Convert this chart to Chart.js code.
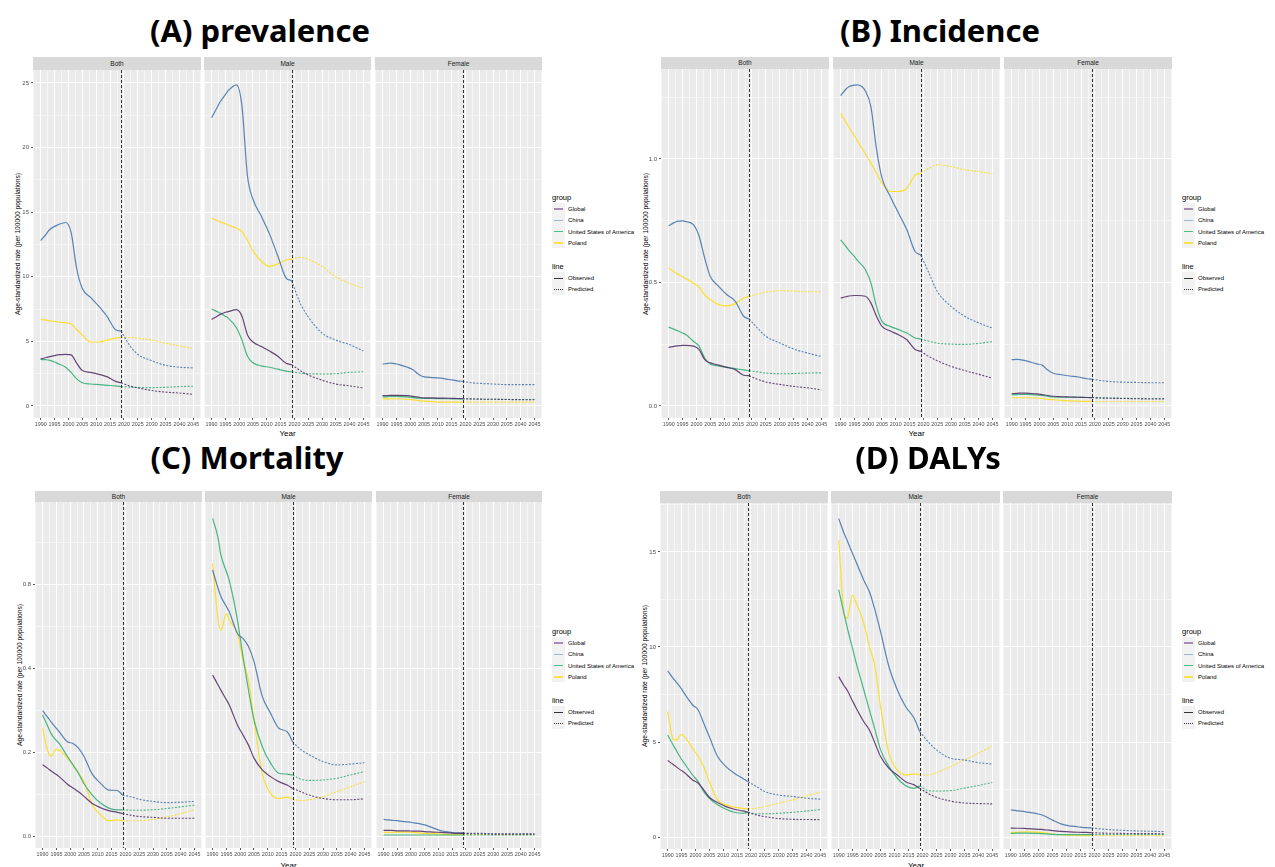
<!DOCTYPE html>
<html>
<head>
<meta charset="utf-8">
<script src="https://cdn.jsdelivr.net/npm/chart.js@4.4.0/dist/chart.umd.min.js"></script>
<style>
  body { margin: 0; background: #fff; width: 1275px; height: 867px; overflow: hidden; position: relative;
         font-family: "Liberation Sans", Arial, sans-serif; }
  canvas { position: absolute; }
  .title { position: absolute; font-family: "Noto Sans", sans-serif; font-weight: 700; font-size: 31px;
           color: #000; transform: translate(-50%, -50%); white-space: nowrap; }
  .strip { position: absolute; background: #d9d9d9; color: #1a1a1a; font-size: 6.5px; text-align: center; }
  .ytitle { position: absolute; font-size: 6.7px; color: #000; white-space: nowrap;
            transform: translate(-50%, -50%) rotate(-90deg); }
  .xtitle { position: absolute; font-size: 8px; color: #000; transform: translate(-50%, -50%); }
  .ltxt { position: absolute; font-size: 6px; color: #000; white-space: nowrap; transform: translateY(-50%); }
  .lhead { position: absolute; font-size: 7.5px; color: #000; transform: translateY(-50%); }
  .lkey { position: absolute; background: #f2f2f2; }
  .lline { position: absolute; }
</style>
</head>
<body>
<script>
// ---- data ----
const groups = ['Global', 'China', 'United States of America', 'Poland'];
const facets = ['Both', 'Male', 'Female'];
const lineTypes = ['Observed', 'Predicted'];
const yearTicks = [1990, 1995, 2000, 2005, 2010, 2015, 2020, 2025, 2030, 2035, 2040, 2045];
const obsYears = [1990, 1992, 1993, 1995, 1996, 1999, 2001, 2003, 2005, 2008, 2011, 2014, 2017, 2019];
const predYears = [2019, 2022, 2025, 2030, 2035, 2040, 2045];
const cutYear = 2019;

// (A) prevalence
const prevTicks = [0, 5, 10, 15, 20, 25];
const prevTickLabels = ['0', '5', '10', '15', '20', '25'];
const prevBothObs = [
  [3.64, 3.75, 3.8, 3.9, 3.95, 4.0, 3.95, 3.3, 2.75, 2.6, 2.45, 2.25, 1.9, 1.8],
  [12.8, 13.3, 13.6, 13.9, 14.0, 14.2, 13.4, 10.6, 9.1, 8.4, 7.7, 6.9, 5.9, 5.8],
  [3.6, 3.58, 3.55, 3.4, 3.3, 3.0, 2.6, 2.1, 1.8, 1.7, 1.65, 1.6, 1.55, 1.5],
  [6.7, 6.65, 6.6, 6.55, 6.5, 6.45, 6.35, 5.9, 5.5, 4.95, 4.95, 5.1, 5.25, 5.3]];
const prevBothPred = [
  [1.8, 1.55, 1.4, 1.2, 1.07, 1.0, 0.9],
  [5.8, 4.7, 4.0, 3.5, 3.15, 3.0, 2.95],
  [1.5, 1.46, 1.43, 1.42, 1.45, 1.5, 1.53],
  [5.3, 5.3, 5.25, 5.1, 4.85, 4.65, 4.45]];
const prevMaleObs = [
  [6.7, 6.95, 7.07, 7.25, 7.3, 7.45, 6.95, 5.5, 4.95, 4.6, 4.25, 3.85, 3.3, 3.2],
  [22.3, 23.1, 23.5, 24.1, 24.4, 24.85, 23.2, 17.8, 16.0, 14.7, 13.3, 11.6, 9.9, 9.7],
  [7.5, 7.3, 7.2, 6.95, 6.8, 6.05, 5.1, 3.85, 3.35, 3.1, 3.0, 2.85, 2.7, 2.65],
  [14.55, 14.35, 14.25, 14.1, 14.0, 13.75, 13.5, 12.8, 12.0, 11.2, 10.8, 11.0, 11.3, 11.35]];
const prevMalePred = [
  [3.2, 2.75, 2.4, 2.0, 1.7, 1.55, 1.4],
  [9.7, 8.0, 6.9, 5.65, 5.1, 4.75, 4.25],
  [2.65, 2.55, 2.5, 2.48, 2.5, 2.6, 2.65],
  [11.35, 11.5, 11.35, 10.8, 10.0, 9.5, 9.1]];
const prevFemaleObs = [
  [0.8, 0.81, 0.82, 0.82, 0.82, 0.8, 0.75, 0.68, 0.62, 0.62, 0.61, 0.6, 0.58, 0.57],
  [3.25, 3.3, 3.32, 3.25, 3.2, 3.0, 2.8, 2.45, 2.25, 2.2, 2.15, 2.05, 1.95, 1.9],
  [0.7, 0.73, 0.75, 0.74, 0.73, 0.7, 0.65, 0.6, 0.58, 0.58, 0.57, 0.56, 0.55, 0.55],
  [0.55, 0.55, 0.56, 0.56, 0.55, 0.52, 0.48, 0.42, 0.38, 0.34, 0.3, 0.3, 0.3, 0.3]];
const prevFemalePred = [
  [0.57, 0.55, 0.53, 0.52, 0.5, 0.49, 0.48],
  [1.9, 1.8, 1.75, 1.7, 1.65, 1.65, 1.65],
  [0.55, 0.54, 0.53, 0.52, 0.51, 0.5, 0.5],
  [0.3, 0.3, 0.3, 0.3, 0.3, 0.3, 0.3]];

// (B) Incidence
const incTicks = [0, 0.5, 1.0];
const incTickLabels = ['0.0', '0.5', '1.0'];
const incBothObs = [
  [0.237, 0.241, 0.243, 0.245, 0.245, 0.242, 0.228, 0.187, 0.174, 0.165, 0.156, 0.147, 0.124, 0.122],
  [0.729, 0.742, 0.747, 0.749, 0.747, 0.733, 0.686, 0.598, 0.524, 0.484, 0.45, 0.423, 0.363, 0.352],
  [0.319, 0.31, 0.305, 0.295, 0.29, 0.261, 0.241, 0.194, 0.17, 0.162, 0.156, 0.151, 0.146, 0.142],
  [0.558, 0.543, 0.535, 0.523, 0.517, 0.497, 0.48, 0.45, 0.43, 0.41, 0.405, 0.414, 0.437, 0.443]];
const incBothPred = [
  [0.122, 0.108, 0.097, 0.087, 0.079, 0.073, 0.065],
  [0.352, 0.315, 0.282, 0.255, 0.23, 0.214, 0.2],
  [0.142, 0.138, 0.133, 0.13, 0.131, 0.133, 0.134],
  [0.443, 0.453, 0.461, 0.466, 0.465, 0.462, 0.462]];
const incMaleObs = [
  [0.437, 0.442, 0.445, 0.447, 0.447, 0.444, 0.416, 0.363, 0.322, 0.303, 0.288, 0.268, 0.228, 0.221],
  [1.256, 1.283, 1.292, 1.299, 1.3, 1.275, 1.21, 1.04, 0.922, 0.848, 0.78, 0.713, 0.625, 0.612],
  [0.672, 0.645, 0.63, 0.605, 0.59, 0.551, 0.497, 0.403, 0.342, 0.322, 0.309, 0.295, 0.275, 0.271],
  [1.185, 1.148, 1.13, 1.093, 1.075, 1.02, 0.982, 0.942, 0.902, 0.868, 0.868, 0.881, 0.935, 0.942]];
const incMalePred = [
  [0.221, 0.2, 0.183, 0.16, 0.143, 0.128, 0.112],
  [0.612, 0.538, 0.464, 0.403, 0.363, 0.336, 0.315],
  [0.271, 0.262, 0.254, 0.25, 0.249, 0.253, 0.26],
  [0.942, 0.962, 0.976, 0.969, 0.956, 0.949, 0.94]];
const incFemaleObs = [
  [0.05, 0.051, 0.052, 0.052, 0.051, 0.049, 0.046, 0.042, 0.039, 0.037, 0.036, 0.035, 0.034, 0.033],
  [0.187, 0.188, 0.187, 0.183, 0.18, 0.17, 0.165, 0.145, 0.132, 0.126, 0.121, 0.117, 0.11, 0.108],
  [0.045, 0.046, 0.047, 0.047, 0.047, 0.045, 0.042, 0.039, 0.036, 0.035, 0.035, 0.035, 0.034, 0.034],
  [0.033, 0.033, 0.033, 0.033, 0.033, 0.032, 0.03, 0.027, 0.025, 0.022, 0.02, 0.019, 0.018, 0.018]];
const incFemalePred = [
  [0.033, 0.032, 0.031, 0.03, 0.029, 0.028, 0.028],
  [0.108, 0.103, 0.099, 0.096, 0.095, 0.094, 0.094],
  [0.034, 0.033, 0.032, 0.031, 0.03, 0.03, 0.03],
  [0.018, 0.018, 0.018, 0.018, 0.018, 0.018, 0.018]];

// (C) Mortality
const mortTicks = [0, 0.2, 0.4, 0.6];
const mortTickLabels = ['0.0', '0.2', '0.4', '0.8'];
const mortBothObs = [
  [0.17, 0.161, 0.156, 0.147, 0.142, 0.124, 0.115, 0.106, 0.095, 0.078, 0.068, 0.061, 0.057, 0.054],
  [0.299, 0.282, 0.273, 0.257, 0.249, 0.225, 0.221, 0.21, 0.19, 0.148, 0.126, 0.11, 0.109, 0.098],
  [0.289, 0.26, 0.245, 0.228, 0.221, 0.19, 0.17, 0.15, 0.125, 0.098, 0.079, 0.067, 0.063, 0.063],
  [0.257, 0.2, 0.191, 0.207, 0.205, 0.186, 0.17, 0.15, 0.13, 0.075, 0.051, 0.037, 0.039, 0.037]];
const mortBothPred = [
  [0.054, 0.05, 0.047, 0.045, 0.043, 0.043, 0.043],
  [0.098, 0.094, 0.088, 0.083, 0.08, 0.081, 0.083],
  [0.063, 0.062, 0.062, 0.063, 0.066, 0.07, 0.074],
  [0.037, 0.037, 0.037, 0.04, 0.046, 0.054, 0.063]];
const mortMaleObs = [
  [0.384, 0.36, 0.348, 0.325, 0.313, 0.265, 0.241, 0.217, 0.186, 0.158, 0.142, 0.13, 0.122, 0.114],
  [0.634, 0.59, 0.571, 0.547, 0.535, 0.483, 0.471, 0.452, 0.416, 0.333, 0.293, 0.257, 0.249, 0.225],
  [0.757, 0.71, 0.67, 0.63, 0.61, 0.515, 0.428, 0.348, 0.277, 0.213, 0.174, 0.15, 0.148, 0.146],
  [0.65, 0.515, 0.49, 0.53, 0.515, 0.483, 0.42, 0.372, 0.277, 0.15, 0.102, 0.09, 0.093, 0.088]];
const mortMalePred = [
  [0.114, 0.106, 0.098, 0.09, 0.087, 0.087, 0.089],
  [0.225, 0.206, 0.194, 0.178, 0.17, 0.172, 0.175],
  [0.146, 0.136, 0.133, 0.134, 0.138, 0.146, 0.154],
  [0.088, 0.085, 0.087, 0.094, 0.106, 0.118, 0.13]];
const mortFemaleObs = [
  [0.014, 0.014, 0.014, 0.013, 0.013, 0.013, 0.012, 0.012, 0.011, 0.01, 0.009, 0.008, 0.007, 0.007],
  [0.04, 0.039, 0.038, 0.037, 0.036, 0.034, 0.032, 0.03, 0.027, 0.02, 0.013, 0.01, 0.008, 0.008],
  [0.003, 0.003, 0.003, 0.003, 0.003, 0.003, 0.003, 0.003, 0.003, 0.003, 0.003, 0.003, 0.003, 0.003],
  [0.009, 0.009, 0.009, 0.01, 0.01, 0.01, 0.009, 0.008, 0.007, 0.006, 0.005, 0.004, 0.004, 0.004]];
const mortFemalePred = [
  [0.007, 0.006, 0.006, 0.005, 0.005, 0.005, 0.005],
  [0.008, 0.007, 0.007, 0.006, 0.006, 0.006, 0.006],
  [0.003, 0.003, 0.003, 0.003, 0.003, 0.003, 0.003],
  [0.004, 0.004, 0.004, 0.004, 0.004, 0.004, 0.004]];

// (D) DALYs
const dalyTicks = [0, 5, 10, 15];
const dalyTickLabels = ['0', '5', '10', '15'];
const dalyBothObs = [
  [4.03, 3.82, 3.71, 3.5, 3.4, 3.01, 2.84, 2.49, 2.1, 1.82, 1.61, 1.47, 1.38, 1.31],
  [8.75, 8.35, 8.17, 7.8, 7.56, 6.95, 6.69, 5.99, 5.29, 4.24, 3.71, 3.36, 3.1, 2.92],
  [5.37, 4.85, 4.59, 4.1, 3.89, 3.27, 2.92, 2.4, 2.05, 1.7, 1.47, 1.31, 1.26, 1.31],
  [6.6, 5.15, 5.1, 5.4, 5.3, 4.67, 4.24, 3.71, 2.92, 1.96, 1.7, 1.58, 1.52, 1.49]];
const dalyBothPred = [
  [1.31, 1.17, 1.08, 0.98, 0.94, 0.93, 0.92],
  [2.92, 2.66, 2.4, 2.22, 2.14, 2.05, 2.0],
  [1.31, 1.23, 1.23, 1.26, 1.31, 1.38, 1.45],
  [1.49, 1.52, 1.61, 1.79, 1.96, 2.17, 2.36]];
const dalyMaleObs = [
  [8.44, 7.95, 7.74, 7.15, 6.86, 6.07, 5.64, 4.94, 4.24, 3.62, 3.27, 2.92, 2.75, 2.57],
  [16.75, 15.95, 15.61, 14.9, 14.56, 13.51, 12.9, 11.94, 10.8, 8.96, 7.74, 6.86, 6.25, 5.55],
  [13.02, 11.7, 11.06, 9.9, 9.31, 7.74, 6.69, 5.64, 4.59, 3.71, 3.1, 2.7, 2.57, 2.7],
  [15.61, 11.7, 11.5, 12.72, 12.4, 11.24, 10.01, 8.96, 6.86, 4.41, 3.54, 3.27, 3.33, 3.27]];
const dalyMalePred = [
  [2.57, 2.3, 2.1, 1.9, 1.8, 1.77, 1.75],
  [5.55, 5.02, 4.59, 4.15, 4.06, 3.92, 3.85],
  [2.7, 2.45, 2.43, 2.45, 2.58, 2.72, 2.88],
  [3.27, 3.27, 3.4, 3.71, 4.06, 4.41, 4.8]];
const dalyFemaleObs = [
  [0.48, 0.47, 0.47, 0.46, 0.45, 0.43, 0.41, 0.38, 0.35, 0.31, 0.28, 0.26, 0.25, 0.24],
  [1.43, 1.4, 1.38, 1.34, 1.32, 1.25, 1.18, 1.05, 0.9, 0.7, 0.6, 0.55, 0.5, 0.48],
  [0.2, 0.21, 0.21, 0.21, 0.21, 0.2, 0.19, 0.17, 0.15, 0.14, 0.14, 0.14, 0.14, 0.14],
  [0.25, 0.26, 0.27, 0.28, 0.28, 0.27, 0.25, 0.21, 0.17, 0.13, 0.11, 0.1, 0.09, 0.09]];
const dalyFemalePred = [
  [0.24, 0.22, 0.21, 0.2, 0.19, 0.19, 0.18],
  [0.48, 0.44, 0.4, 0.36, 0.33, 0.31, 0.3],
  [0.14, 0.14, 0.14, 0.14, 0.14, 0.14, 0.14],
  [0.09, 0.09, 0.09, 0.09, 0.09, 0.09, 0.09]];

// ---- styles / layout ----
const lineColors = ['rgba(78,40,98,0.85)', 'rgba(64,112,168,0.85)', 'rgba(44,170,112,0.85)', 'rgba(252,222,30,0.9)'];
const keyColors = ['#a48cb3', '#9db6d4', '#4dbd88', '#f6e24a'];
const yTitle = 'Age-standardized rate (per 100000 populations)';

const panels = [
  { title: '(A) prevalence', tx: 260, ty: 30,
    obs: [prevBothObs, prevMaleObs, prevFemaleObs], pred: [prevBothPred, prevMalePred, prevFemalePred],
    ticks: prevTicks, labels: prevTickLabels, ymin: -0.93, ymax: 26.0,
    stripTop: 57, top: 70, bottom: 418, xs: [[33, 201], [204, 371], [375, 542]],
    ytx: 17, xty: 433, legX: 552, legY: 197 },
  { title: '(B) Incidence', tx: 940, ty: 30,
    obs: [incBothObs, incMaleObs, incFemaleObs], pred: [incBothPred, incMalePred, incFemalePred],
    ticks: incTicks, labels: incTickLabels, ymin: -0.049, ymax: 1.364,
    stripTop: 57, top: 69, bottom: 418, xs: [[661, 829], [833, 1000], [1004, 1172]],
    ytx: 645, xty: 433, legX: 1182, legY: 197 },
  { title: '(C) Mortality', tx: 247, ty: 457,
    obs: [mortBothObs, mortMaleObs, mortFemaleObs], pred: [mortBothPred, mortMalePred, mortFemalePred],
    ticks: mortTicks, labels: mortTickLabels, ymin: -0.028, ymax: 0.796,
    stripTop: 491, top: 502, bottom: 848, xs: [[35, 202], [205, 372], [376, 542]],
    ytx: 19, xty: 865, legX: 552, legY: 631 },
  { title: '(D) DALYs', tx: 928, ty: 457,
    obs: [dalyBothObs, dalyMaleObs, dalyFemaleObs], pred: [dalyBothPred, dalyMalePred, dalyFemalePred],
    ticks: dalyTicks, labels: dalyTickLabels, ymin: -0.62, ymax: 17.57,
    stripTop: 491, top: 503, bottom: 849, xs: [[660, 828], [831, 1000], [1003, 1172]],
    ytx: 644, xty: 865, legX: 1182, legY: 631 }
];

Chart.defaults.font.family = '"Liberation Sans", Arial, sans-serif';
Chart.defaults.font.size = 6;

function withMinor(majors) {
  const step = majors[1] - majors[0];
  const out = [majors[0] - step / 2];
  majors.forEach((v, i) => { out.push(v); out.push(i < majors.length - 1 ? (v + majors[i + 1]) / 2 : v + step / 2); });
  return out;
}
function isMajor(list, v) { return list.some(t => Math.abs(t - v) < 1e-9); }

const xAll = withMinor(yearTicks);

const panelBg = {
  id: 'panelBg',
  beforeDraw(chart) {
    const a = chart.chartArea, ctx = chart.ctx;
    ctx.save(); ctx.fillStyle = '#ebebeb';
    ctx.fillRect(a.left, a.top, a.right - a.left, a.bottom - a.top);
    ctx.restore();
  }
};
const cutLine = {
  id: 'cutLine',
  afterDatasetsDraw(chart) {
    const a = chart.chartArea, ctx = chart.ctx;
    const x = Math.round(chart.scales.x.getPixelForValue(cutYear)) + 0.5;
    ctx.save(); ctx.strokeStyle = '#333'; ctx.lineWidth = 1; ctx.setLineDash([3, 2]);
    ctx.beginPath(); ctx.moveTo(x, a.top); ctx.lineTo(x, a.bottom); ctx.stroke();
    ctx.restore();
  }
};

function addDiv(cls, text, styles) {
  const d = document.createElement('div');
  d.className = cls;
  if (text) d.textContent = text;
  Object.assign(d.style, styles);
  document.body.appendChild(d);
  return d;
}

function drawLegend(x, y) {
  addDiv('lhead', 'group', { left: x + 'px', top: y + 'px' });
  addDiv('lkey', '', { left: x + 'px', top: (y + 6) + 'px', width: '13px', height: '45px' });
  groups.forEach((g, i) => {
    const cy = y + 12 + i * 11.3;
    addDiv('lline', '', { left: (x + 2) + 'px', top: (cy - 0.7) + 'px', width: '9px', height: '1.4px',
      background: keyColors[i] });
    addDiv('ltxt', g, { left: (x + 16) + 'px', top: cy + 'px' });
  });
  addDiv('lhead', 'line', { left: x + 'px', top: (y + 69) + 'px' });
  addDiv('lkey', '', { left: x + 'px', top: (y + 75) + 'px', width: '13px', height: '23px' });
  lineTypes.forEach((t, i) => {
    const cy = y + 81 + i * 11;
    addDiv('lline', '', { left: (x + 2) + 'px', top: (cy - 0.5) + 'px', width: '9px', height: '0',
      borderTop: (i === 0 ? '1px solid ' : '1px dotted ') + '#333' });
    addDiv('ltxt', t, { left: (x + 16) + 'px', top: cy + 'px' });
  });
}

const xAxH = 12;
const yAxW = 26;

panels.forEach(p => {
  addDiv('title', p.title, { left: p.tx + 'px', top: p.ty + 'px' });
  addDiv('ytitle', yTitle, { left: p.ytx + 'px', top: ((p.top + p.bottom) / 2) + 'px' });
  addDiv('xtitle', 'Year', { left: ((p.xs[0][0] + p.xs[2][1]) / 2) + 'px', top: p.xty + 'px' });
  drawLegend(p.legX, p.legY);
  const yAll = withMinor(p.ticks);

  facets.forEach((f, fi) => {
    const [l, r] = p.xs[fi];
    const h = p.top - p.stripTop;
    addDiv('strip', f, { left: l + 'px', top: p.stripTop + 'px', width: (r - l) + 'px',
      height: h + 'px', lineHeight: h + 'px' });

    const first = fi === 0;
    const padL = first ? 0 : 6, padR = 6;
    const cl = first ? l - yAxW : l - padL;
    const canvas = document.createElement('canvas');
    canvas.width = r + padR - cl;
    canvas.height = p.bottom - p.top + xAxH;
    canvas.style.left = cl + 'px';
    canvas.style.top = p.top + 'px';
    document.body.appendChild(canvas);

    const datasets = [];
    groups.forEach((g, gi) => {
      datasets.push({
        label: g + ' observed',
        data: obsYears.map((yr, k) => ({ x: yr, y: p.obs[fi][gi][k] })),
        borderColor: lineColors[gi], borderWidth: 1.2, pointRadius: 0,
        cubicInterpolationMode: 'monotone', fill: false
      });
      datasets.push({
        label: g + ' predicted',
        data: predYears.map((yr, k) => ({ x: yr, y: p.pred[fi][gi][k] })),
        borderColor: lineColors[gi], borderWidth: 1.1, borderDash: [2, 1.5], pointRadius: 0,
        cubicInterpolationMode: 'monotone', fill: false
      });
    });

    new Chart(canvas, {
      type: 'line',
      data: { datasets },
      options: {
        responsive: false, animation: false, events: [],
        layout: { padding: { left: padL, right: padR, top: 0, bottom: 0 } },
        plugins: { legend: { display: false }, tooltip: { enabled: false } },
        scales: {
          x: {
            type: 'linear', min: 1987.25, max: 2047.75,
            border: { display: false },
            afterBuildTicks: ax => { ax.ticks = xAll.filter(v => v >= ax.min && v <= ax.max).map(v => ({ value: v })); },
            afterFit: ax => { ax.height = xAxH; ax.paddingLeft = 0; ax.paddingRight = 0; },
            grid: {
              color: '#ffffff',
              lineWidth: c => (c.tick && isMajor(yearTicks, c.tick.value)) ? 1 : 0.5,
              tickLength: 2, tickWidth: 0.8,
              tickColor: c => (c.tick && isMajor(yearTicks, c.tick.value)) ? '#333333' : 'rgba(0,0,0,0)'
            },
            ticks: {
              autoSkip: false, maxRotation: 0, minRotation: 0, padding: 1, color: '#4d4d4d',
              font: { size: 5.4 },
              callback: v => isMajor(yearTicks, v) ? String(v) : ''
            }
          },
          y: {
            min: p.ymin, max: p.ymax,
            border: { display: false },
            afterBuildTicks: ax => { ax.ticks = yAll.filter(v => v >= ax.min && v <= ax.max).map(v => ({ value: v })); },
            afterFit: ax => { ax.width = first ? yAxW : 0; ax.paddingTop = 0; ax.paddingBottom = 0; },
            grid: {
              color: '#ffffff',
              lineWidth: c => (c.tick && isMajor(p.ticks, c.tick.value)) ? 1 : 0.5,
              drawTicks: first, tickLength: 2, tickWidth: 0.8,
              tickColor: c => (c.tick && isMajor(p.ticks, c.tick.value)) ? '#333333' : 'rgba(0,0,0,0)'
            },
            ticks: {
              display: first, padding: 2, color: '#4d4d4d', font: { size: 6 },
              callback: v => {
                const k = p.ticks.findIndex(t => Math.abs(t - v) < 1e-9);
                return k >= 0 ? p.labels[k] : '';
              }
            }
          }
        }
      },
      plugins: [panelBg, cutLine]
    });
  });
});
</script>
</body>
</html>
